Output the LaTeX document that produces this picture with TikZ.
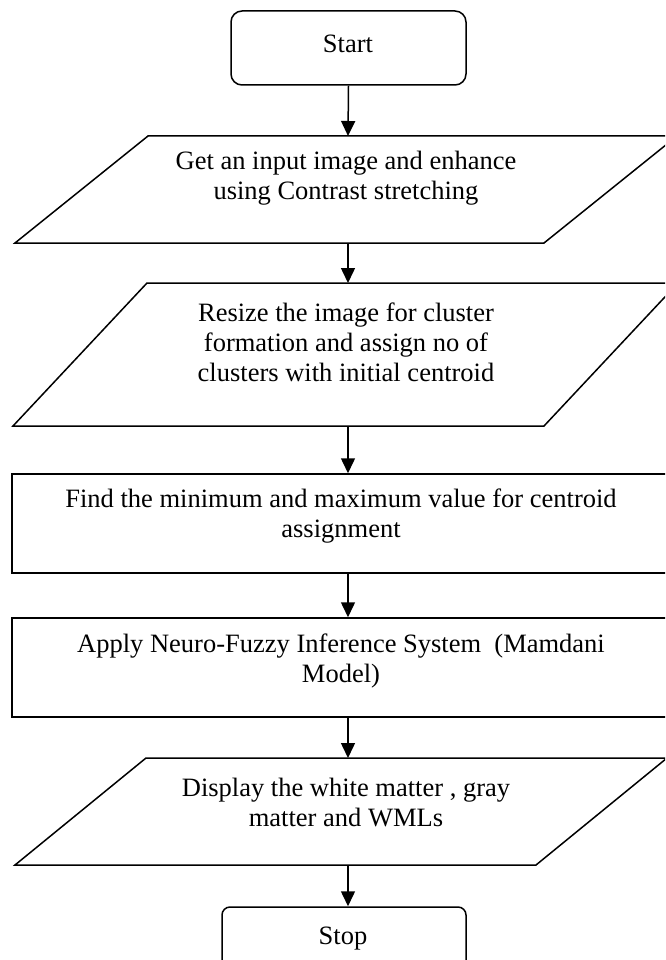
\documentclass[tikz,border=0pt]{standalone}
\usepackage{fontspec}
\setmainfont{Liberation Serif}
\usetikzlibrary{arrows.meta}
\begin{document}
\begin{tikzpicture}[x=1pt,y=-1pt,
  outline/.style={draw=black,line width=1.5pt},
  termbox/.style={outline,rounded corners=11pt,inner sep=0pt},
  procbox/.style={outline,inner sep=0pt},
  para/.style={outline,line join=miter},
  label/.style={font=\fontsize{26.5}{30}\selectfont,align=center,inner sep=0pt},
  flow/.style={line width=1.5pt,-{Triangle[length=15pt,width=14pt]}}]
\useasboundingbox (0,0) rectangle (665,960);
\clip (0,0) rectangle (665,960);
% Start
\node[termbox,minimum width=235pt,minimum height=74pt] (start) at (348.5,48) {};
\node[label] (tstart) at (348,44) {Start};
% Parallelogram 1
\draw[para] (15,243) -- (544,243) -- (677,136) -- (148,136) -- cycle;
\coordinate (p1t) at (348,136);
\coordinate (p1b) at (348,243);
\node[label] (t1) at (346,178) {Get an input image and enhance\\using Contrast stretching};
% Parallelogram 2
\draw[para] (13,426) -- (544,426) -- (678,283) -- (147,283) -- cycle;
\coordinate (p2t) at (348,283);
\coordinate (p2b) at (348,426);
\node[label] (t2) at (346,342) {Resize the image for cluster\\formation and assign no of\\clusters with initial centroid};
% Rect 1
\node[procbox,minimum width=660pt,minimum height=99pt] (r1) at (342,523.5) {};
\node[label] (t3) at (341,516) {Find the minimum and maximum value for centroid\\assignment};
% Rect 2
\node[procbox,minimum width=660pt,minimum height=99pt] (r2) at (342,667.5) {};
\node[label] (t4) at (341,661) {Apply Neuro-Fuzzy Inference System\ \ (Mamdani\\Model)};
% Parallelogram 3
\draw[para] (15,865) -- (536,865) -- (667,758) -- (146,758) -- cycle;
\coordinate (p3t) at (348,758);
\coordinate (p3b) at (348,865);
\node[label] (t5) at (346,802) {Display the white matter , gray\\matter and WMLs};
% Stop
\node[termbox,rounded corners=8pt,minimum width=244pt,minimum height=80pt] (stop) at (344,947) {};
\node[label] (tstop) at (343,939) {Stop};
% Connectors
\draw[flow] (start.south) -- (p1t);
\draw[flow] (p1b) -- (p2t);
\draw[flow] (p2b) -- (p2b |- r1.north);
\draw[flow] (p2b |- r1.south) -- (p2b |- r2.north);
\draw[flow] (p2b |- r2.south) -- (p3t);
\draw[flow] (p3b) -- (p3b |- stop.north);
\end{tikzpicture}
\end{document}
